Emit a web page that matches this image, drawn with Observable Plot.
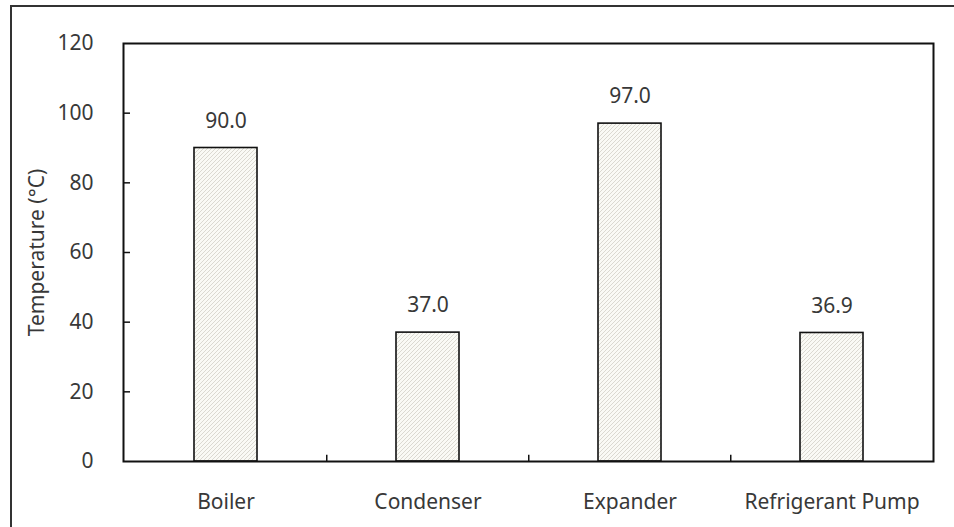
<!DOCTYPE html>
<html>
<head>
<meta charset="utf-8">
<script src="https://cdn.jsdelivr.net/npm/d3@7"></script>
<script src="https://cdn.jsdelivr.net/npm/@observablehq/plot@0.6"></script>
<style>
  html, body { margin: 0; padding: 0; background: #fff; }
  #wrap { position: relative; width: 954px; height: 527px; overflow: hidden; }
  #outer { position: absolute; left: 10px; top: 5px; width: 960px; height: 520px;
           border-left: 2px solid #333; border-top: 2px solid #333; pointer-events: none; }
  svg { font-family: "Noto Sans", sans-serif; }
</style>
</head>
<body>
<div id="wrap"><div id="outer"></div></div>
<script>
const categories = ["Boiler", "Condenser", "Expander", "Refrigerant Pump"];
const values = [90.0, 37.0, 97.0, 36.9];
const yTickLabels = [0, 20, 40, 60, 80, 100, 120];
const yTickMarks = [20, 40, 60, 80, 100];
const xBoundaries = categories.slice(1);
const yTitle = "Temperature (°C)";

const data = categories.map((c, i) => ({category: c, value: values[i]}));

const textColor = "#383838";

const chart = Plot.plot({
  width: 954,
  height: 527,
  marginLeft: 123,
  marginRight: 21,
  marginTop: 43,
  marginBottom: 66,
  style: {fontFamily: "'Noto Sans', sans-serif", fontSize: "21px", color: textColor, background: "transparent"},
  x: {domain: categories, paddingInner: 0.69, paddingOuter: 0.345, label: null},
  y: {domain: [0, 120], label: null},
  marks: [
    Plot.barY(data, {x: "category", y: "value", fill: "url(#hatch)", stroke: "#111", strokeWidth: 1.6}),
    Plot.text(data, {x: "category", y: "value", text: d => d.value.toFixed(1), dy: -27, fontSize: 21, fill: textColor}),
    Plot.axisY(yTickLabels, {tickSize: 0, tickPadding: 30, fontSize: 21, fill: textColor, label: null}),
    Plot.axisY(yTickMarks, {tickSize: -7, tickFormat: () => "", label: null, stroke: "#111", strokeWidth: 1.5}),
    Plot.axisX({tickSize: 0, tickPadding: 33, fontSize: 21, fill: textColor, label: null}),
    Plot.ruleX(xBoundaries, {x: d => d, dx: -101.25, y1: 0, y2: 1.8, stroke: "#111", strokeWidth: 1.5}),
    Plot.text([yTitle], {text: d => d, frameAnchor: "left", textAnchor: "middle", dx: -86, rotate: -90, fontSize: 21, fill: textColor}),
    Plot.frame({stroke: "#111", strokeWidth: 2})
  ]
});

const svg = d3.select(chart);
const defs = svg.insert("defs", ":first-child");
const pat = defs.append("pattern")
  .attr("id", "hatch")
  .attr("patternUnits", "userSpaceOnUse")
  .attr("width", 4)
  .attr("height", 4);
pat.append("rect").attr("width", 4).attr("height", 4).attr("fill", "#fafaf5");
pat.append("path")
  .attr("d", "M-1,1 l2,-2 M0,4 l4,-4 M3,5 l2,-2")
  .attr("stroke", "#cfccc2")
  .attr("stroke-width", 0.7);

document.getElementById("wrap").insertBefore(chart, document.getElementById("outer"));
chart.style.position = "absolute";
chart.style.left = "0";
chart.style.top = "0";
</script>
</body>
</html>
